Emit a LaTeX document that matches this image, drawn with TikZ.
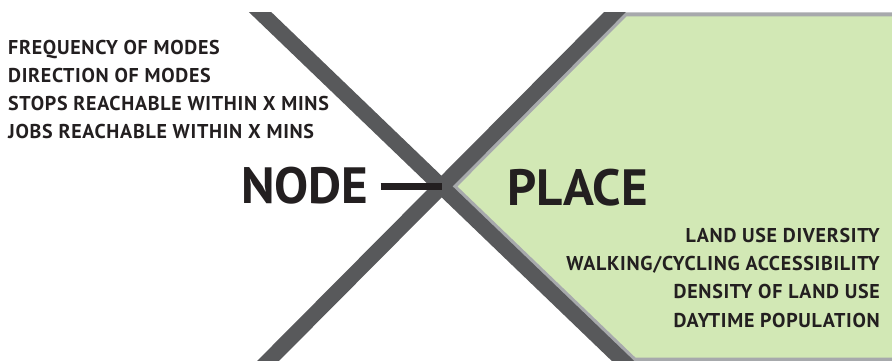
\documentclass[tikz,border=0pt]{standalone}
\usepackage{fontspec}
\setmainfont{PT Sans}
\newfontfamily\lblfont[LetterSpace=3.5]{PT Sans}
\definecolor{barc}{HTML}{58595B}
\definecolor{fillg}{HTML}{D2E8B5}
\definecolor{edgec}{HTML}{A7A9AC}
\definecolor{ink}{HTML}{231F20}
\tikzset{
  lbl/.style={inner sep=0pt, text=ink, font=\lblfont\fontsize{20}{20}\selectfont\bfseries},
  big/.style={inner sep=0pt, text=ink, font=\fontsize{51}{51}\selectfont\bfseries},
  xbar/.style={draw=barc, line width=15.5pt},
  greenzone/.style={fill=fillg, draw=edgec, line width=4pt, line join=miter},
  link/.style={draw=ink, line width=7.5pt}
}
\begin{document}
\begin{tikzpicture}[x=1pt,y=-1pt]
\useasboundingbox (0,0) rectangle (892,360);
\clip (0,0) rectangle (892,360);
\coordinate (c) at (441.5,186.5);
\path[greenzone] (454.5,186.5) -- (625.7,14.3) -- (905,14.3) -- (905,359.5) -- (634.5,359.5) -- cycle;
\begin{scope}
  \clip (-10,12) rectangle (900,370);
  \path[xbar] (223.8,-22.8) -- (658.2,394.8);
  \path[xbar] (649.6,-22.8) -- (234.4,394.8);
\end{scope}
\node[lbl, anchor=base west] (f1) at (8,54) {FREQUENCY OF MODES};
\node[lbl, anchor=base west] (f2) at (8,82) {DIRECTION OF MODES};
\node[lbl, anchor=base west] (f3) at (8,110) {STOPS REACHABLE WITHIN X MINS};
\node[lbl, anchor=base west] (f4) at (8,138) {JOBS REACHABLE WITHIN X MINS};
\node[big, anchor=base west] (nd) at (241,203) {NODE};
\node[big, anchor=base west] (pl) at (507,205) {PLACE};
\node[lbl, anchor=base east] (p1) at (880,242) {LAND USE DIVERSITY};
\node[lbl, anchor=base east] (p2) at (880,270) {WALKING/CYCLING ACCESSIBILITY};
\node[lbl, anchor=base east] (p3) at (880,298) {DENSITY OF LAND USE};
\node[lbl, anchor=base east] (p4) at (880,327) {DAYTIME POPULATION};
\path[link] ([xshift=12pt]nd.east |- c) -- (c);
\end{tikzpicture}
\end{document}
